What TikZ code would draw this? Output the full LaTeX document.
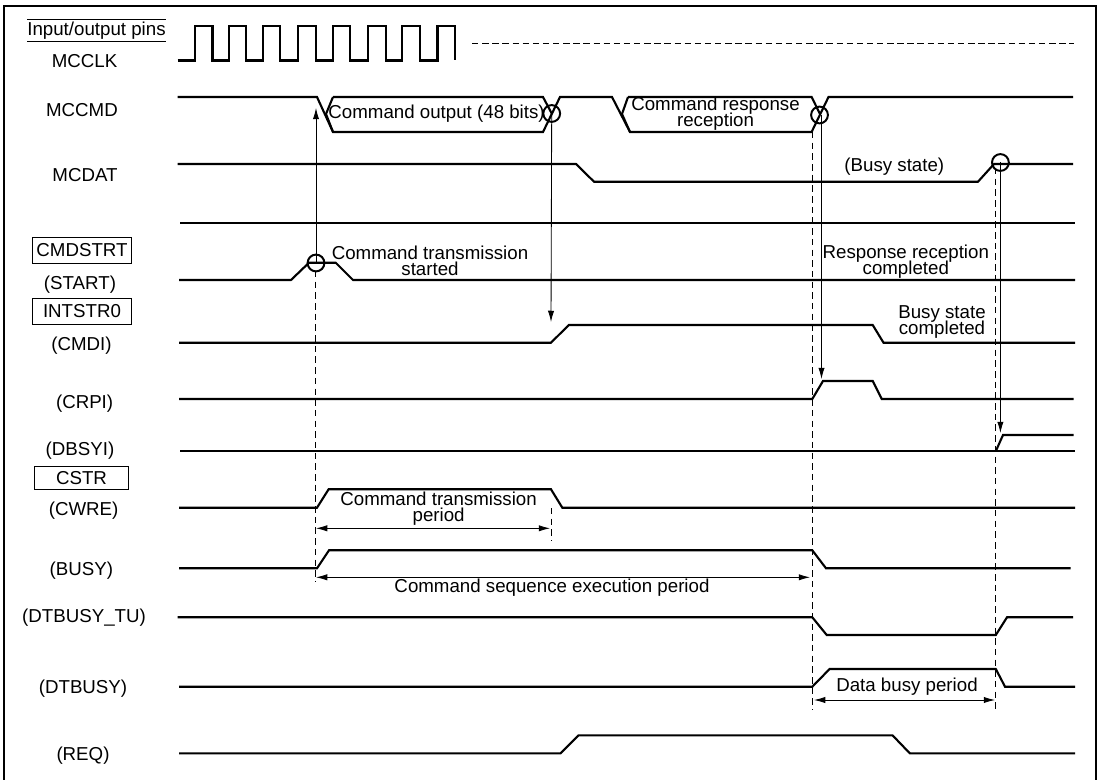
\documentclass[tikz,border=0pt]{standalone}
\usepackage{xcolor}
\usepackage{fontspec}
\setmainfont{Liberation Sans}
\usepackage{tikz}
\usetikzlibrary{calc,arrows.meta}
\newcommand{\notefont}{\fontsize{13.3}{11.4}\selectfont\lineskiplimit=-20pt\relax}

\begin{document}
\begin{tikzpicture}[
    x=0.025cm, y=-0.025cm,
    sig/.style={font=\fontsize{13.3}{14}\selectfont, align=center, inner sep=0pt, text height=9.4pt, text depth=2.8pt, yshift=-1.4pt},
    note/.style={font=\notefont, align=center, inner sep=0pt},
    pinbox/.style={rectangle, draw, line width=0.7pt, inner sep=0pt, font=\fontsize{13.3}{14}\selectfont},
    wave/.style={line width=1.5pt, line join=miter},
    ring/.style={circle, draw, line width=1.4pt, minimum size=0.42cm, inner sep=0pt},
    guide/.style={line width=0.7pt, dash pattern=on 4.6pt off 3pt},
    trig/.style={line width=0.6pt, -{Latex[length=8pt,width=4.5pt]}},
    span/.style={line width=0.6pt, {Latex[length=8pt,width=4.5pt]}-{Latex[length=8pt,width=4.5pt]}}
]
    \useasboundingbox (0,0) rectangle (1103,780);

    % Outer frame, open at the bottom
    \draw[line width=1.7pt] (4,780) -- (4,6) -- (1096,6) -- (1096,780);

    % Signal names
    \node[sig, minimum width=3.42cm, minimum height=0.52cm, yshift=1.4pt] (pins) at (96.5,30.5) {Input/output pins};
    \draw[line width=0.7pt] (pins.north west) -- (pins.north east);
    \draw[line width=0.7pt] (pins.south west) -- (pins.south east);
    \node[sig] (mcclk) at (84.6,61) {MCCLK};
    \node[sig] (mccmd) at (82,110) {MCCMD};
    \node[sig] (mcdat) at (85,175) {MCDAT};
    \node[pinbox, minimum width=2.45cm, minimum height=0.65cm] (cmdstrt) at (82,250) {CMDSTRT};
    \node[sig] (start) at (80,283) {(START)};
    \node[pinbox, minimum width=2.45cm, minimum height=0.63cm] (intstr) at (82,311.5) {INTSTR0};
    \node[sig] (cmdi) at (81.4,344) {(CMDI)};
    \node[sig] (crpi) at (84.6,402) {(CRPI)};
    \node[sig] (dbsyi) at (80,449) {(DBSYI)};
    \node[pinbox, minimum width=2.36cm, minimum height=0.565cm] (cstr) at (81.5,478) {CSTR};
    \node[sig] (cwre) at (83.6,509) {(CWRE)};
    \node[sig] (bsy) at (81.4,569) {(BUSY)};
    \node[sig] (dtbusytu) at (84,616) {(DTBUSY\_TU)};
    \node[sig] (dtbusy) at (83,687) {(DTBUSY)};
    \node[sig] (req) at (83,754) {(REQ)};

    % Waveforms
    \draw[wave] (177.5,60.5) -- (194.6,60.5) -- (194.6,26) -- (212.5,26) -- (212.5,60.5) -- (228.6,60.5) -- (228.6,26) -- (246.4,26) -- (246.4,60.5)
        -- (263.2,60.5) -- (263.2,26) -- (280.4,26) -- (280.4,60.5) -- (298.2,60.5) -- (298.2,26) -- (316,26) -- (316,60.5)
        -- (333.2,60.5) -- (333.2,26) -- (350,26) -- (350,60.5) -- (367.9,60.5) -- (367.9,26) -- (385.7,26) -- (385.7,60.5)
        -- (401.8,60.5) -- (401.8,26) -- (419.6,26) -- (419.6,60.5) -- (437.5,60.5) -- (437.5,26) -- (455.4,26) -- (455.4,60.5);
    \draw[wave] (177.5,97) -- (317,97) -- (333,132) -- (543,132) -- (560,97) -- (612,97) -- (630,132) -- (811.6,132) -- (828.5,97) -- (1073,97);
    \draw[wave] (333,97) -- (326,114) -- (333,132);
    \draw[wave] (333,97) -- (543,97) -- (552,114);
    \draw[wave] (628,97) -- (622,114) -- (630,132);
    \draw[wave] (628,97) -- (811.6,97) -- (820,114);
    \draw[wave] (177.5,164) -- (576,164) -- (594,181.7) -- (978,181.7) -- (994,164) -- (1073,164);
    \draw[wave] (180,222.7) -- (1075,222.7);
    \draw[wave] (179,280) -- (291,280) -- (309,262.7) -- (335.7,262.7) -- (353,280) -- (1075,280);
    \draw[wave] (179,342.7) -- (551,342.7) -- (568.8,325) -- (872.7,325) -- (883.5,342.7) -- (1075,342.7);
    \draw[wave] (179,399) -- (812.3,399) -- (823,381) -- (872.7,381) -- (881.7,399) -- (1073.5,399);
    \draw[wave] (180,450.7) -- (1075,450.7);
    \draw[wave] (996,450.7) -- (1003,435) -- (1073.5,435);
    \draw[wave] (179,507.7) -- (317,507.7) -- (328.6,489.3) -- (551,489.3) -- (562.3,507.7) -- (1075,507.7);
    \draw[wave] (179,568.3) -- (317,568.3) -- (329,550.3) -- (812.3,550.3) -- (826,568.3) -- (1070.6,568.3);
    \draw[wave] (177.5,617.3) -- (812.3,617.3) -- (826.7,635) -- (995.8,635) -- (1007,617.3) -- (1073,617.3);
    \draw[wave] (179,686.7) -- (812.3,686.7) -- (829.6,669) -- (995.8,669) -- (1005,686.7) -- (1075,686.7);
    \draw[wave] (179,753.3) -- (560.5,753.3) -- (578.5,735.3) -- (892.5,735.3) -- (909.8,753.3) -- (1075,753.3);

    % Clock continues
    \coordinate (clkdash) at (472,43.5);
    \coordinate (clkend) at (1074,43.5);
    \draw[line width=0.7pt, dash pattern=on 4.6pt off 2.6pt] (clkdash) -- (clkend);

    % Event circles
    \node[ring] (rstart) at (316,263) {};
    \node[ring] (rcmd) at (551.7,113.5) {};
    \node[ring] (rresp) at (819.5,115) {};
    \node[ring] (rbusy) at (1000.4,162.5) {};

    % Arrows from events
    \coordinate (tcmd) at (316,108);
    \coordinate (tcmdi) at (551,322);
    \coordinate (tcrpi) at (821.5,379);
    \coordinate (tdbsyi) at (1000.4,433);
    \draw[trig] (rstart.center) -- (tcmd);
    \draw[trig] (rcmd.center) -- (tcmdi);
    \draw[trig] ($(rresp.center)+(2,0)$) -- (tcrpi);
    \draw[trig] (rbusy.center) -- (tdbsyi);

    % Timing guides
    \coordinate (ga) at (315.4,271);
    \coordinate (gb) at (315.4,582);
    \coordinate (gc) at (551,508);
    \coordinate (gd) at (551,541);
    \coordinate (ge) at (812.3,132);
    \coordinate (gf) at (812.3,710);
    \coordinate (gg) at (995.8,168);
    \coordinate (gh) at (995.8,710);
    \draw[guide] (ga) -- (gb);
    \draw[guide] (gc) -- (gd);
    \draw[guide] (ge) -- (gf);
    \draw[guide] (gg) -- (gh);

    % Period arrows
    \coordinate (sa) at (316,528.3);
    \coordinate (sb) at (550,528.3);
    \coordinate (sc) at (316,577.3);
    \coordinate (sd) at (810,577.3);
    \coordinate (se) at (814,700);
    \coordinate (sf) at (995,700);
    \draw[span] (sa) -- (sb);
    \draw[span] (sc) -- (sd);
    \draw[span] (se) -- (sf);

    % Notes
    \node[note] (noutput) at (436.6,114) {Command output (48 bits)};
    \node[note] (nresp) at (715.5,114) {Command response\\reception};
    \node[note] (nbusy) at (894.3,167) {(Busy state)};
    \node[note] (nstart) at (430,261) {Command transmission\\started};
    \node[note] (ndone) at (905.8,261.5) {Response reception\\completed};
    \node[note] (nbdone) at (942,322) {Busy state\\completed};
    \node[note] (nperiod) at (438.6,508.5) {Command transmission\\period};
    \node[note] (nseq) at (552,588) {Command sequence execution period};
    \node[note] (ndata) at (907,687) {Data busy period};
\end{tikzpicture}
\end{document}
